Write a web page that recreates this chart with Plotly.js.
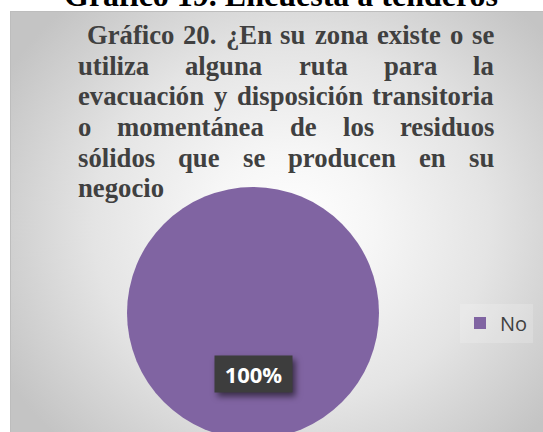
<!DOCTYPE html>
<html><head><meta charset="utf-8">
<script src="https://cdn.plot.ly/plotly-3.0.1.min.js"></script>
<style>
html,body{margin:0;padding:0;width:543px;height:432px;overflow:hidden;background:#fff;}
#bgbox{position:absolute;left:10px;top:11px;width:540px;height:480px;border:1px solid #bdbdbd;
background:radial-gradient(ellipse 330px 300px at 280px 214px,#ffffff 0%,#f6f6f6 25%,#e4e4e4 60%,#c4c4c4 100%);}
#chart{position:absolute;left:0;top:0;width:543px;height:480px;}
g.annotation[data-index="0"] rect.bg{filter:drop-shadow(3px 4px 3px rgba(0,0,0,0.55));}
</style></head>
<body><div id="bgbox"></div><div id="chart"></div>
<script>
// ---- data ----
const labels = ['No'];
const values = [100];
const headerText = 'Gráfico 19. Encuesta a tenderos';
const titleLines = [
  'Gráfico 20. ¿En su zona existe o se',
  'utiliza alguna ruta para la',
  'evacuación y disposición transitoria',
  'o momentánea de los residuos',
  'sólidos que se producen en su',
  'negocio'
];

// ---- layout helpers ----
const W = 543, H = 480;
const fx = px => px / W, fy = py => 1 - py / H;
const TFS = 26.7;
const textLeft = 77, firstLeft = 86, textRight = 493;
const baselines = [44, 75, 105.5, 136, 167, 197.5];

const ctx = document.createElement('canvas').getContext('2d');
ctx.font = 'bold ' + TFS + 'px "Liberation Serif"';

const total = values.reduce((a, b) => a + b, 0);
const pctText = Math.round(values[0] / total * 100) + '%';

const annotations = [];
annotations.push({
  text: pctText, x: fx(253.5), y: fy(374), xref: 'paper', yref: 'paper',
  xanchor: 'center', yanchor: 'middle', showarrow: false,
  font: {family: 'Open Sans', size: 22, color: '#ffffff', weight: 'bold'},
  bgcolor: '#3d3d3d', borderpad: 4, width: 69, height: 28
});
annotations.push({
  text: headerText, x: fx(281), y: fy(6 - 0.3375 * 32), xref: 'paper', yref: 'paper',
  xanchor: 'center', yanchor: 'middle', showarrow: false, borderpad: 0,
  font: {family: 'Liberation Serif', size: 32, color: '#000000', weight: 'bold'}
});
titleLines.forEach((line, i) => {
  const words = line.split(' ');
  const widths = words.map(w => ctx.measureText(w).width);
  const sumW = widths.reduce((a, b) => a + b, 0);
  const start = i === 0 ? firstLeft : textLeft;
  const last = i === titleLines.length - 1;
  const gap = (last || words.length < 2) ? ctx.measureText(' ').width : (textRight - start - sumW) / (words.length - 1);
  let x = start;
  words.forEach((w, j) => {
    annotations.push({
      text: w, x: fx(x), y: fy(baselines[i] - 0.3375 * TFS), xref: 'paper', yref: 'paper',
      xanchor: 'left', yanchor: 'middle', showarrow: false, borderpad: 0,
      font: {family: 'Liberation Serif', size: TFS, color: '#404040', weight: 'bold'}
    });
    x += widths[j] + gap;
  });
});

const trace = {
  type: 'pie', labels: labels, values: values, sort: false,
  marker: {colors: ['#8064A2'], line: {width: 0}},
  textinfo: 'none', hoverinfo: 'skip',
  domain: {x: [fx(127), fx(379)], y: [fy(439), fy(187)]}
};

const layout = {
  width: W, height: H, margin: {l: 0, r: 0, t: 0, b: 0},
  paper_bgcolor: 'rgba(0,0,0,0)', plot_bgcolor: 'rgba(0,0,0,0)',
  showlegend: true,
  legend: {x: fx(460), y: fy(323), xanchor: 'left', yanchor: 'middle',
    bgcolor: 'rgba(255,255,255,0.18)', borderwidth: 0,
    font: {family: 'Open Sans', size: 20, color: '#404040'}},
  annotations: annotations
};

Plotly.newPlot('chart', [trace], layout, {displayModeBar: false, staticPlot: true});
</script>
</body></html>
